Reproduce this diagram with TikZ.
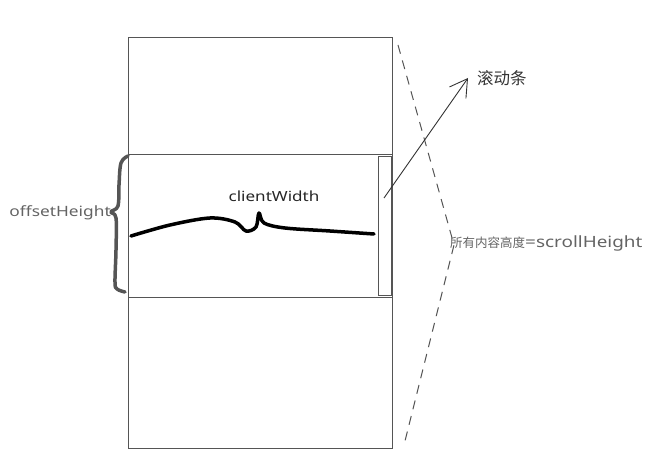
\documentclass[tikz,border=0pt]{standalone}
\usepackage{fontspec}
\setmainfont{Noto Sans}
\newfontfamily\cjkfont{Noto Sans CJK SC}
\newfontfamily\handfont[FakeStretch=1.22]{Noto Sans}
\usetikzlibrary{arrows.meta}
\definecolor{LineGray}{RGB}{85,85,85}
\definecolor{TextGray}{RGB}{100,100,100}

\begin{document}
\begin{tikzpicture}[x=1pt, y=-1pt,
	frame/.style={LineGray, line width=1pt},
	sketch/.style={line width=3.5pt, line cap=round, line join=round},
	label/.style={inner sep=0pt, font=\cjkfont\fontsize{12.5}{14}\selectfont, text=TextGray}]
				\useasboundingbox (0,0) rectangle (649,468);
				\clip (0,0) rectangle (649,468);
				% page and visible window
				\draw[frame] (128,38) rectangle (392,448);
				\draw[frame] (128,155) -- (392,155);
				\draw[frame] (128,298) -- (392,298);
				\draw[frame] (378,157) rectangle (391,296);
				% dashed outline
				\coordinate (T) at (398,45);
				\coordinate (M) at (454,245);
				\coordinate (B) at (404,445);
				\draw[LineGray, dashed, dash pattern=on 9pt off 7pt, line width=1pt] (T) -- (M) -- (B);
				% brace
				\draw[sketch, LineGray] plot[smooth, tension=0.6] coordinates
					{(128,156) (121,163) (119,185) (118,206) (111,212) (116,218) (116,250) (115,282) (117,289) (125,292)};
				% width curve
				\draw[sketch, black] plot[smooth, tension=0.55] coordinates
					{(131,236) (170,225) (210,218) (235,222) (246,231) (256,227) (259,213) (264,223) (285,228) (330,231) (374,234)};
				% arrow
				\coordinate (S) at (384,198);
				\coordinate (E) at (468,78);
				\draw[black!80, line width=0.9pt, -{Straight Barb[length=17pt, width=20pt]}] (S) -- (E);
				\node[label, anchor=west, text=black!80, font=\cjkfont\fontsize{16.5}{18}\selectfont] (scrollbar) at (477,78) {滚动条};
				\node[label, anchor=west] (scrollHeight) at (450,243) {所有内容高度{\handfont\fontsize{15.5}{17}\selectfont =scrollHeight}};
				\node[label, anchor=east, font=\handfont\fontsize{14.2}{16}\selectfont] (offsetHeight) at (111,213) {offsetHeight};
				\node[label, text=black!85, font=\handfont\fontsize{14}{16}\selectfont] (clientWidth) at (274,196) {clientWidth};
			\end{tikzpicture}
\end{document}
